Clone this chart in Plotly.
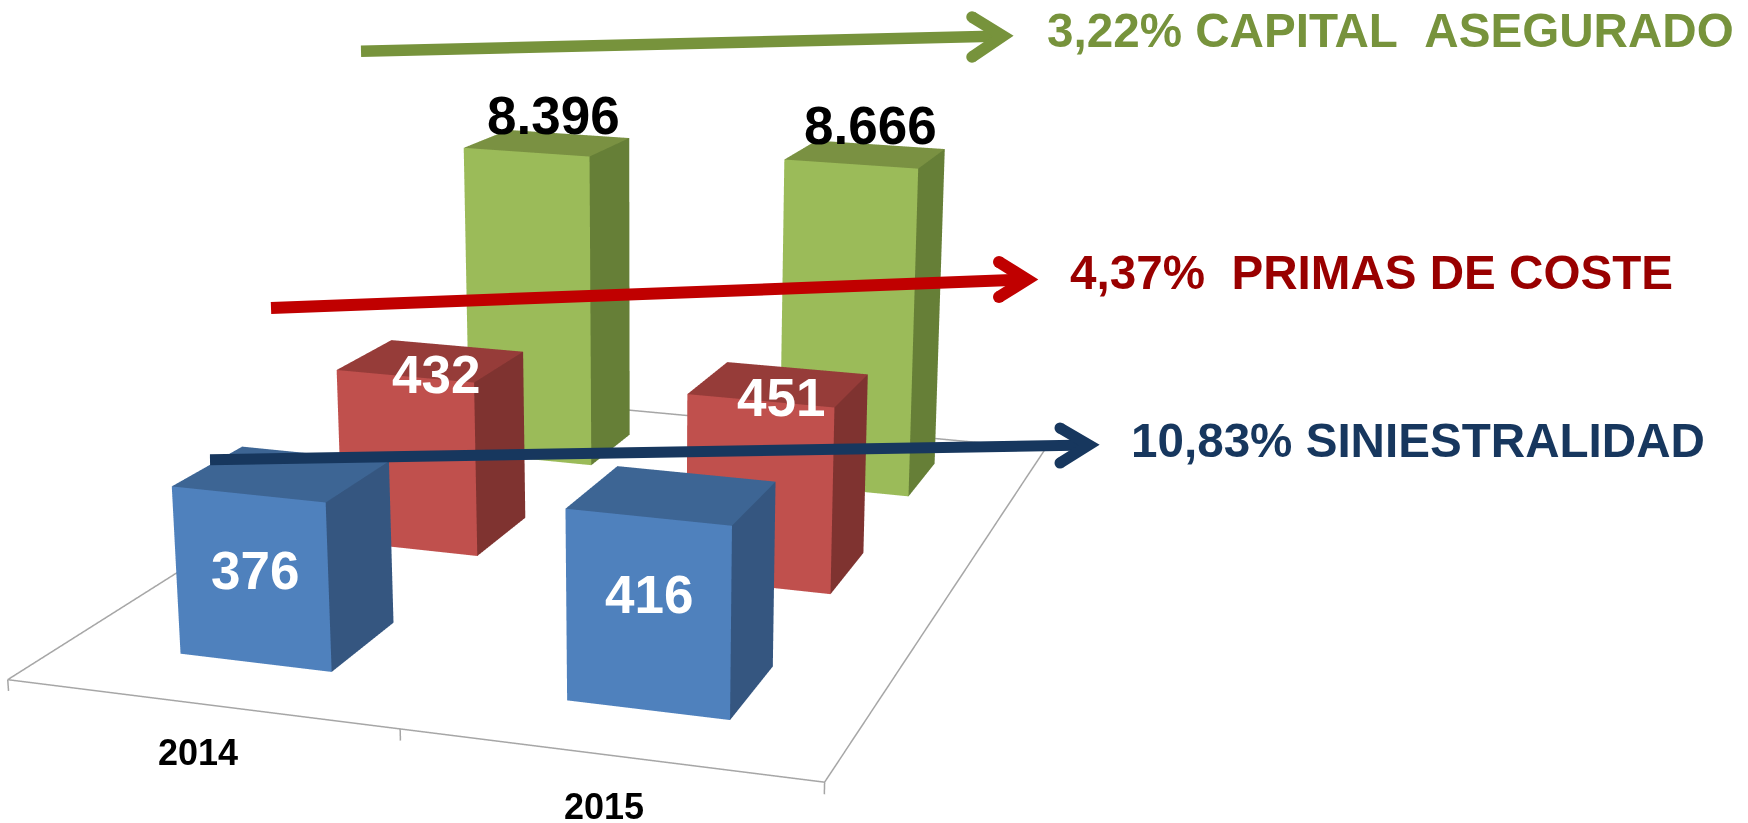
import math
import plotly.graph_objects as go

# ---------- data ----------
years = ["2014", "2015"]
series = ["Siniestralidad", "Primas de coste", "Capital asegurado"]
siniestralidad = [376, 416]
primas = [432, 451]
capital = [8396, 8666]
CAPITAL_DIVISOR = 10  # the capital series is drawn at 1/10 of its labelled value
values = [siniestralidad, primas, capital]
bar_heights = [siniestralidad, primas, [v / CAPITAL_DIVISOR for v in capital]]
growth_labels = ["10,83%\u00a0SINIESTRALIDAD", "4,37%\u00a0\u00a0PRIMAS DE COSTE", "3,22%\u00a0CAPITAL\u00a0\u00a0ASEGURADO"]

# ---------- styles ----------
front_colors = ["#4F81BD", "#C0504D", "#9BBB59"]
side_colors = ["#355680", "#7F3330", "#667F37"]
top_colors = ["#3D6594", "#963C39", "#7A9142"]
arrow_colors = ["#17375E", "#C00000", "#77933C"]
text_colors = ["#17375E", "#990000", "#77933C"]
value_colors = ["white", "white", "black"]
FONT = "Liberation Sans"
W, H = 1748, 823

# chart geometry
BAR_W, BAR_D = 0.3998, 0.3933
BASE = 1.95
TICK_END = BASE - 25
Z_RANGE = [-60, 960]
FOCAL = 2536.43
FOVY = 2 * math.atan((H / 2) / FOCAL)

fig = go.Figure()
for j in range(3):
    xs, ys, zs, I, J, K, fc = [], [], [], [], [], [], []
    for i in range(2):
        o = len(xs)
        x0, x1 = i + .5 - BAR_W / 2, i + .5 + BAR_W / 2
        y0, y1 = j + .5 - BAR_D / 2, j + .5 + BAR_D / 2
        v = bar_heights[j][i]
        xs += [x0, x1, x1, x0, x0, x1, x1, x0]
        ys += [y0, y0, y1, y1, y0, y0, y1, y1]
        zs += [BASE] * 4 + [v] * 4
        faces = [(0, 1, 5, front_colors[j]), (0, 5, 4, front_colors[j]),
                 (1, 2, 6, side_colors[j]), (1, 6, 5, side_colors[j]),
                 (4, 5, 6, top_colors[j]), (4, 6, 7, top_colors[j]),
                 (0, 3, 7, front_colors[j]), (0, 7, 4, front_colors[j]),
                 (3, 2, 6, side_colors[j]), (3, 6, 7, side_colors[j])]
        for a, b, c, col in faces:
            I.append(o + a); J.append(o + b); K.append(o + c); fc.append(col)
    fig.add_trace(go.Mesh3d(x=xs, y=ys, z=zs, i=I, j=J, k=K, facecolor=fc, flatshading=True,
                            name=series[j], hoverinfo="skip",
                            lighting=dict(ambient=1, diffuse=0, specular=0, roughness=1, fresnel=0)))

# floor outline and category ticks
fig.add_trace(go.Scatter3d(
    x=[0, 2, 2, 0, 0, None, 0, 0, None, 1, 1, None, 2, 2],
    y=[0, 0, 3, 3, 0, None, 0, 0, None, 0, 0, None, 0, 0],
    z=[BASE] * 5 + [None, BASE, TICK_END, None, BASE, TICK_END, None, BASE, TICK_END],
    mode="lines", line=dict(color="#A6A6A6", width=3), hoverinfo="skip", showlegend=False))


def axis(r):
    return dict(visible=False, range=r, showgrid=False, zeroline=False,
                showbackground=False, showspikes=False)


fig.update_layout(
    width=W, height=H, margin=dict(l=0, r=0, t=0, b=0), paper_bgcolor="white", showlegend=False,
    scene=dict(
        domain=dict(x=[0, 1], y=[0, 1]), aspectmode="manual",
        aspectratio=dict(x=1, y=1.3520, z=0.0571 * (Z_RANGE[1] - Z_RANGE[0]) / 100),
        xaxis=axis([0, 2]), yaxis=axis([0, 3]), zaxis=axis(Z_RANGE),
        camera=dict(projection=dict(type="perspective"),
                    eye=dict(x=1.1444, y=-3.1539, z=0.8822),
                    center=dict(x=0.3343, y=0.1946, z=-0.0815),
                    up=dict(x=-0.0087, y=-0.0666, z=1))))


def px(x):
    return x / W


def py(y):
    return 1 - y / H


def label(text, x, y, size, color, anchor="center"):
    fig.add_annotation(x=px(x), y=py(y), xref="paper", yref="paper", text=text, showarrow=False,
                       xanchor=anchor, yanchor="middle",
                       font=dict(family=FONT, size=size, color=color, weight=700))


def arrow(tail, apex, arm1, arm2, color, width):
    path = f"M {px(tail[0])} {py(tail[1])} L {px(apex[0])} {py(apex[1])}"
    head = (f"M {px(arm1[0])} {py(arm1[1])} L {px(apex[0])} {py(apex[1])} "
            f"L {px(arm2[0])} {py(arm2[1])}")
    fig.add_shape(type="path", xref="paper", yref="paper", path=path, line=dict(color=color, width=width))
    fig.add_shape(type="path", xref="paper", yref="paper", path=head, line=dict(color=color, width=width))
    r = width / 2
    for a in (arm1, arm2):
        fig.add_shape(type="circle", xref="paper", yref="paper", x0=px(a[0] - r), x1=px(a[0] + r),
                      y0=py(a[1] - r), y1=py(a[1] + r), fillcolor=color, line=dict(width=0))


arrow((361, 51.3), (1003, 36), (972, 17), (972, 57), arrow_colors[2], 11.5)
arrow((271, 308), (1027, 279.5), (999, 262), (999, 297), arrow_colors[1], 12)
arrow((210, 459.7), (1089, 445), (1060, 428), (1060, 463), arrow_colors[0], 11)

label(growth_labels[2], 1045, 30, 47.6, text_colors[2], "left")
label(growth_labels[1], 1068, 273, 47.6, text_colors[1], "left")
label(growth_labels[0], 1129, 440, 47.6, text_colors[0], "left")


def fmt(v):
    return f"{v:,}".replace(",", ".")


value_positions = {(0, 0): (255, 570), (1, 0): (649, 594), (0, 1): (435.7, 374), (1, 1): (781, 397),
                   (0, 2): (553, 116), (1, 2): (870.6, 125)}
for (i, j), (x, y) in value_positions.items():
    label(fmt(values[j][i]), x, y, 53, value_colors[j])

label(years[0], 198, 752.7, 36, "black")
label(years[1], 604, 806.7, 36, "black")

post = f"""
document.body.style.margin='0';
var gd=document.getElementById('{{plot_id}}');
var s=gd._fullLayout.scene._scene;
s.glplot.fovy={FOVY};
s.glplot.redraw();
"""
fig.write_html("out.html", post_script=post, config={"displayModeBar": False})
